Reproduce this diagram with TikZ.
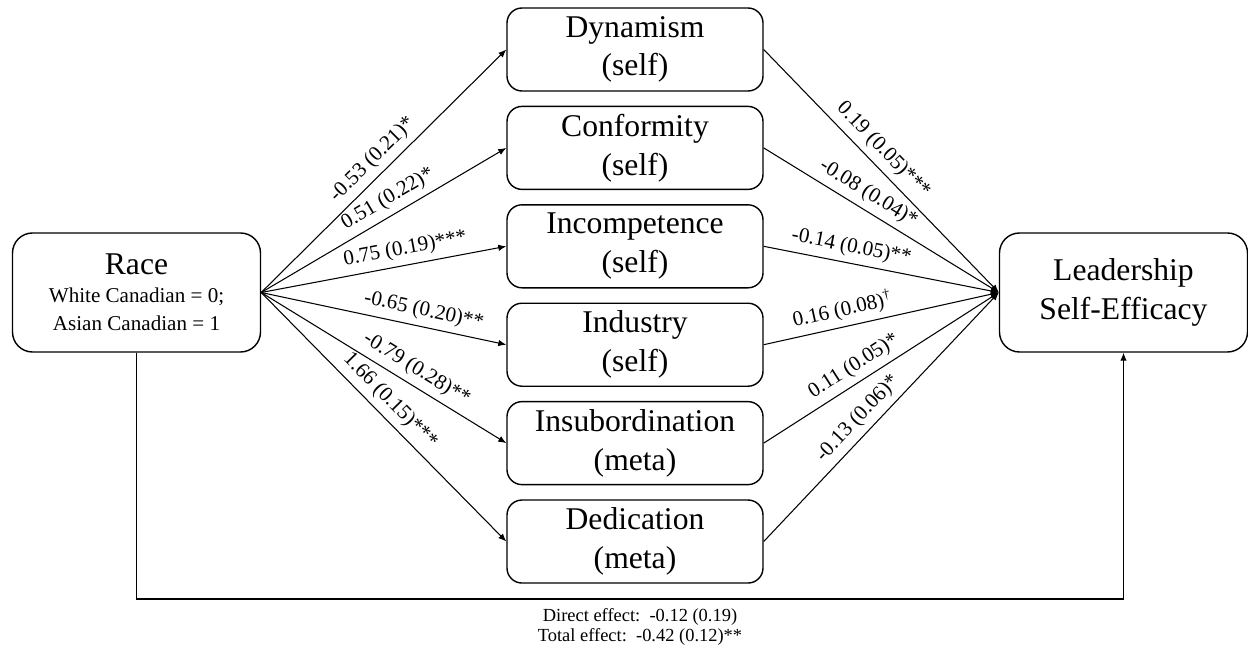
\documentclass[tikz,border=0pt]{standalone}
\usepackage{fontspec}
\setmainfont{Liberation Serif}
\usetikzlibrary{positioning,arrows.meta}
\newcommand{\subline}{\fontsize{12}{14}\selectfont}

\begin{document}
\begin{tikzpicture}[
  box/.style={draw,rounded corners=0.3cm,line width=0.8pt,minimum width=5.12cm,
    minimum height=1.66cm,align=center,font=\fontsize{18}{22}\selectfont},
  outer/.style={box,minimum width=4.96cm,minimum height=2.38cm,rounded corners=0.4cm},
  link/.style={-{Latex[length=1.6mm,width=1.3mm]},line width=0.6pt},
  coef/.style={sloped,above,font=\fontsize{12}{14}\selectfont}
]
  \useasboundingbox (0,0) rectangle (24.96,13.04);
  % predictor and outcome
  \node[outer] (race) at (2.73,7.19)
    {Race\\[-6pt]\subline White Canadian = 0;\\[-6pt]\subline Asian Canadian = 1};
  \node[outer] (lse) at (22.47,7.19) {Leadership\\Self-Efficacy};
  % mediators
  \node[box] (dyn) at (12.7,12.05) {Dynamism\\(self)};
  \node[box,below=0.28cm of dyn] (conf) {Conformity\\(self)};
  \node[box,below=0.28cm of conf] (incomp) {Incompetence\\(self)};
  \node[box,below=0.28cm of incomp] (indus) {Industry\\(self)};
  \node[box,below=0.28cm of indus] (insub) {Insubordination\\(meta)};
  \node[box,below=0.28cm of insub] (dedic) {Dedication\\(meta)};
  % a paths
  \draw[link] (race.east) -- (dyn.west) node[coef,pos=0.5]{-0.53 (0.21)*};
  \draw[link] (race.east) -- (conf.west) node[coef,pos=0.55]{0.51 (0.22)*};
  \draw[link] (race.east) -- (incomp.west) node[coef,pos=0.6]{0.75 (0.19)***};
  \draw[link] (race.east) -- (indus.west) node[coef,pos=0.65]{-0.65 (0.20)**};
  \draw[link] (race.east) -- (insub.west) node[coef,pos=0.6]{-0.79 (0.28)**};
  \draw[link] (race.east) -- (dedic.west) node[coef,pos=0.48]{1.66 (0.15)***};
  % b paths
  \draw[link] (dyn.east) -- (lse.west) node[coef,pos=0.46]{0.19 (0.05)***};
  \draw[link] (conf.east) -- (lse.west) node[coef,pos=0.41]{-0.08 (0.04)*};
  \draw[link] (incomp.east) -- (lse.west) node[coef,pos=0.36]{-0.14 (0.05)**};
  \draw[link] (indus.east) -- (lse.west) node[coef,pos=0.35]{0.16 (0.08)\textsuperscript{\textdagger}};
  \draw[link] (insub.east) -- (lse.west) node[coef,pos=0.42]{0.11 (0.05)*};
  \draw[link] (dedic.east) -- (lse.west) node[coef,pos=0.45]{-0.13 (0.06)*};
  % direct path
  \coordinate (corner) at (race.south |- 0,1.06);
  \draw[link] (race.south) -- (corner) -| (lse.south);
  \node[align=center,font=\fontsize{10.5}{11.3}\selectfont] (effects) at (12.8,0.5)
    {Direct effect:\ \ -0.12 (0.19)\\Total effect:\ \ -0.42 (0.12)**};
\end{tikzpicture}
\end{document}
